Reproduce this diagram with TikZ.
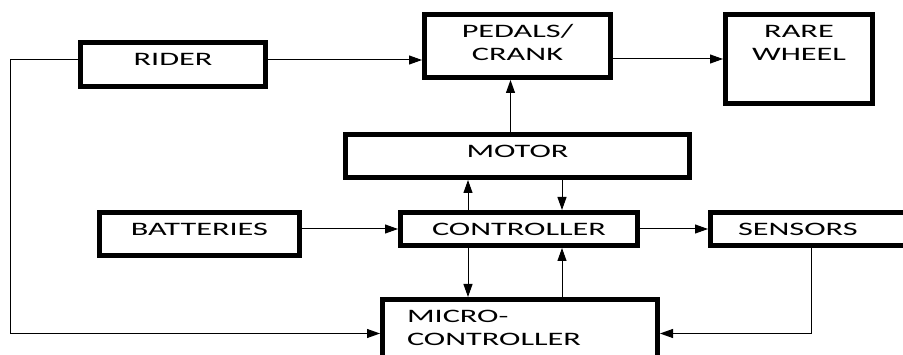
\documentclass[tikz,border=0pt]{standalone}
\usepackage{fontspec}
\newfontfamily\diagfont[FakeStretch=1.7]{Carlito}
\usepackage{tikz}
\usetikzlibrary{arrows.meta,calc}
\tikzset{
  blockbox/.style={
    rectangle, draw=black, line width=5pt, inner sep=0pt,
    anchor=north west, text height=23pt, align=center,
    font=\diagfont\fontsize{19}{23}\selectfont
  },
  flow/.style={-{Triangle[length=13pt,width=9pt]}, line width=1pt, color=black},
}
\begin{document}
\begin{tikzpicture}[x=1pt,y=-1pt]
  \path[use as bounding box, clip] (0,0) rectangle (903,355);

  % Top row
  \node[blockbox, minimum width=185pt, text depth=21pt] (rider) at (78,40) {RIDER};
  \node[blockbox, minimum width=186pt, text height=46pt, text depth=17pt] (pedals) at (422,12) {PEDALS/\\CRANK};
  \node[blockbox, minimum width=147pt, text height=46pt, text depth=43pt] (wheel) at (723,12) {RARE\\WHEEL};

  % Motor and controller
  \node[blockbox, minimum width=344pt, text depth=20pt] (motor) at (343,132) {MOTOR};
  \node[blockbox, minimum width=200pt, text depth=20pt] (batt) at (97,210) {BATTERIES};
  \node[blockbox, minimum width=237pt, text depth=10pt] (ctrl) at (398,210) {CONTROLLER};
  \node[blockbox, minimum width=147pt, text width=147pt, inner xsep=27.5pt,
        align=left, text depth=10pt] (sensors) at (708,210) {SENSORS};

  % Micro-controller
  \node[blockbox, minimum width=275pt, text width=226pt, inner xsep=24.5pt,
        align=left, text depth=45pt] (micro) at (380,297) {MICRO-\\CONTROLLER};

  % Connectors
  \draw[flow] ([yshift=4.5pt]rider.east) -- ([yshift=4.5pt]pedals.west |- rider.east);
  \draw[flow] (pedals.east |- wheel.west) -- (wheel.west);
  \draw[flow] ([yshift=4.5pt]rider.west) -- ++(-68pt,0) |- (micro.west);
  \draw[flow] ([xshift=-7pt]motor.north) -- ([xshift=-7pt]pedals.south -| motor.north);
  \draw[flow] ([xshift=-51pt]ctrl.north) -- ([xshift=-51pt]motor.south -| ctrl.north);
  \draw[flow] ([xshift=43pt]motor.south -| ctrl.north) -- ([xshift=43pt]ctrl.north);
  \draw[flow] ([xshift=-51pt]ctrl.south) -- ([xshift=-51pt]micro.north -| ctrl.south);
  \draw[flow] ([xshift=43pt]micro.north -| ctrl.south) -- ([xshift=43pt]ctrl.south);
  \draw[flow] (batt.east |- ctrl.west) -- (ctrl.west);
  \draw[flow] (ctrl.east) -- (sensors.west);
  \draw[flow] (sensors.south) |- (micro.east);

\end{tikzpicture}
\end{document}
